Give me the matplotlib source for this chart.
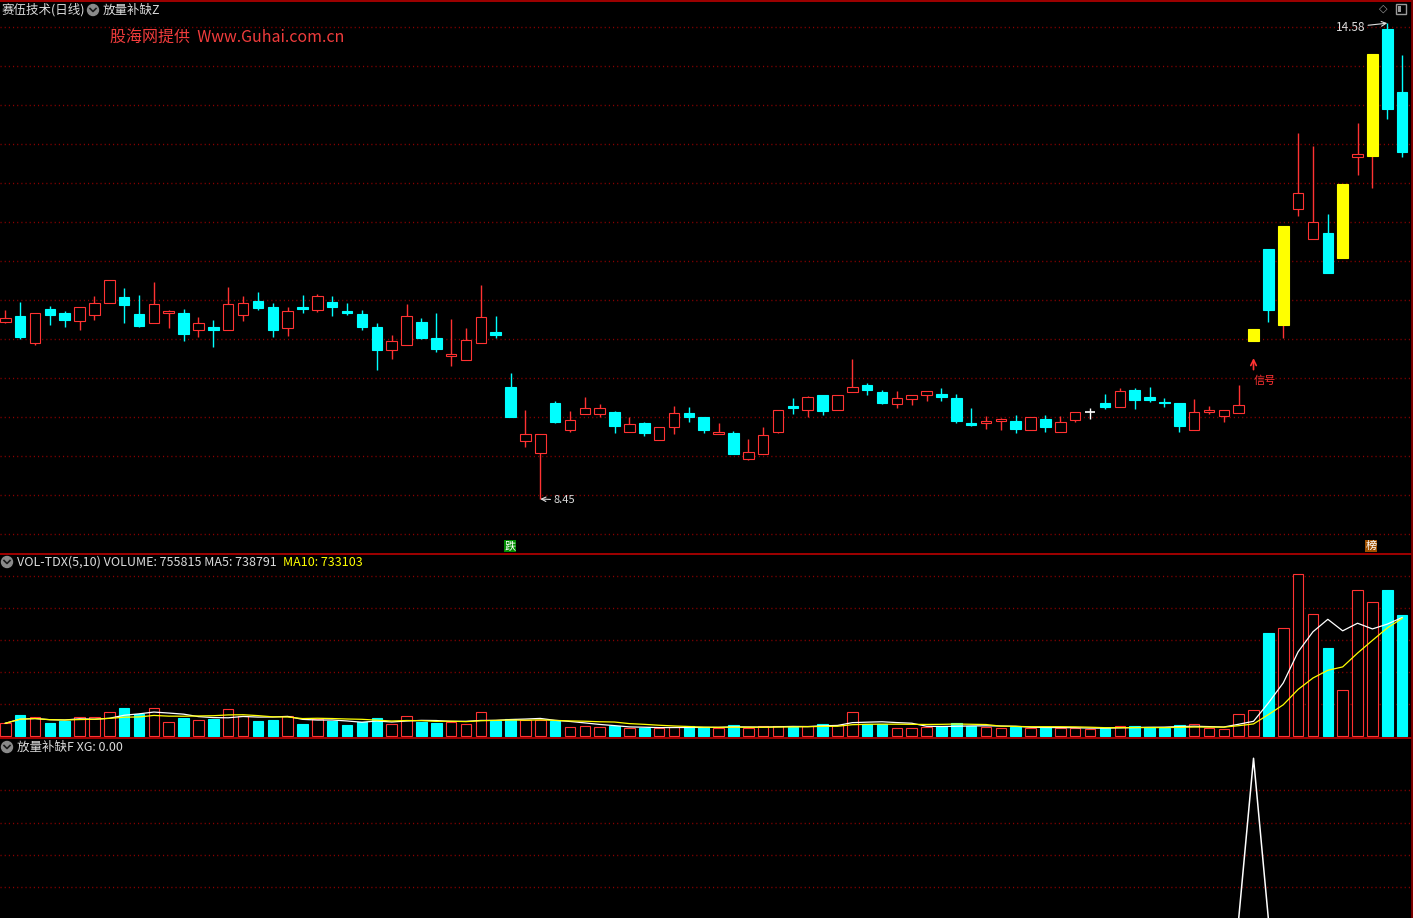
import numpy as np
import pandas as pd
import matplotlib
matplotlib.use("Agg")
import matplotlib.pyplot as plt
from matplotlib.patches import Rectangle, Circle

plt.rcParams['font.family'] = ['Noto Sans CJK SC', 'DejaVu Sans']

# daily bars (prices in yuan)
opens = [10.75, 10.83, 10.47, 10.92, 10.87, 10.76, 10.84, 11.00, 11.07, 10.85,
         10.73, 10.87, 10.87, 10.64, 10.68, 10.64, 10.84, 11.02, 10.94, 10.67,
         10.94, 10.91, 11.01, 10.89, 10.85, 10.68, 10.39, 10.45, 10.75, 10.54,
         10.31, 10.25, 10.47, 10.62, 9.91, 9.21, 9.05, 9.70, 9.34, 9.56,
         9.56, 9.58, 9.32, 9.44, 9.22, 9.39, 9.57, 9.52, 9.30, 9.31,
         8.97, 9.03, 9.32, 9.66, 9.61, 9.80, 9.61, 9.84, 9.93, 9.84,
         9.69, 9.75, 9.80, 9.81, 9.76, 9.44, 9.44, 9.46, 9.46, 9.35,
         9.49, 9.32, 9.48, 9.58, 9.70, 9.64, 9.87, 9.77, 9.71, 9.70,
         9.34, 9.58, 9.53, 9.57, 10.50, 11.70, 10.71, 12.22, 11.83, 11.90,
         11.58, 12.89, 12.91, 14.55, 13.74]
highs = [10.90, 11.01, 10.86, 10.96, 10.89, 10.95, 11.09, 11.29, 11.19, 11.10,
         11.27, 10.90, 10.92, 10.82, 10.77, 11.20, 11.09, 11.14, 11.00, 10.94,
         11.10, 11.11, 11.09, 11.00, 10.90, 10.74, 10.58, 10.98, 10.80, 10.87,
         10.79, 10.67, 11.23, 10.83, 10.09, 9.61, 9.29, 9.72, 9.59, 9.77,
         9.68, 9.59, 9.52, 9.45, 9.39, 9.66, 9.65, 9.52, 9.44, 9.33,
         9.23, 9.39, 9.61, 9.76, 9.79, 9.80, 9.80, 10.27, 9.96, 9.87,
         9.85, 9.80, 9.85, 9.89, 9.81, 9.63, 9.53, 9.50, 9.54, 9.51,
         9.54, 9.53, 9.58, 9.63, 9.81, 9.89, 9.89, 9.91, 9.76, 9.70,
         9.75, 9.66, 9.60, 9.93, 10.66, 11.70, 11.99, 13.20, 13.03, 12.15,
         12.54, 13.33, 14.23, 14.63, 14.22]
lows = [10.74, 10.53, 10.45, 10.71, 10.68, 10.64, 10.77, 11.00, 10.74, 10.68,
        10.73, 10.67, 10.50, 10.56, 10.42, 10.64, 10.76, 10.90, 10.55, 10.57,
        10.87, 10.88, 10.83, 10.84, 10.64, 10.13, 10.27, 10.45, 10.53, 10.36,
        10.18, 10.25, 10.47, 10.54, 9.52, 9.13, 8.45, 9.44, 9.32, 9.56,
        9.52, 9.31, 9.32, 9.27, 9.22, 9.30, 9.45, 9.31, 9.30, 9.04,
        8.96, 9.03, 9.31, 9.55, 9.52, 9.54, 9.61, 9.84, 9.80, 9.68,
        9.63, 9.67, 9.72, 9.72, 9.44, 9.40, 9.36, 9.35, 9.31, 9.35,
        9.32, 9.32, 9.45, 9.49, 9.62, 9.64, 9.62, 9.71, 9.64, 9.32,
        9.34, 9.55, 9.45, 9.57, 10.50, 10.75, 10.54, 12.13, 11.83, 11.39,
        11.58, 12.66, 12.49, 13.38, 12.89]
closes = [10.80, 10.56, 10.86, 10.84, 10.77, 10.95, 10.99, 11.29, 10.97, 10.70,
          10.98, 10.89, 10.59, 10.74, 10.64, 10.98, 11.00, 10.93, 10.64, 10.89,
          10.92, 11.09, 10.95, 10.87, 10.68, 10.39, 10.50, 10.83, 10.54, 10.40,
          10.33, 10.52, 10.81, 10.58, 9.52, 9.29, 9.29, 9.45, 9.48, 9.63,
          9.63, 9.40, 9.42, 9.31, 9.39, 9.57, 9.51, 9.35, 9.32, 9.04,
          9.06, 9.28, 9.61, 9.63, 9.77, 9.59, 9.80, 9.90, 9.87, 9.70,
          9.76, 9.80, 9.85, 9.77, 9.46, 9.41, 9.46, 9.49, 9.36, 9.51,
          9.38, 9.45, 9.58, 9.58, 9.65, 9.85, 9.73, 9.73, 9.70, 9.40,
          9.58, 9.61, 9.60, 9.67, 10.66, 10.90, 11.99, 12.43, 12.05, 11.39,
          12.54, 12.93, 14.23, 13.52, 12.96]
volumes = [77500, 129000, 115000, 79000, 90000, 115000, 115000, 146000, 173000, 134000,
           171000, 84000, 111000, 96000, 104000, 165000, 125000, 92000, 98000, 123000,
           73000, 103000, 94000, 67000, 84000, 111000, 73000, 123000, 88000, 79000,
           85000, 75000, 150000, 90000, 105000, 100000, 95000, 90000, 55000, 60000,
           52000, 58000, 50000, 45000, 48000, 55000, 60000, 52000, 45000, 65000,
           50000, 58000, 62000, 55000, 60000, 75000, 68000, 150000, 70000, 72000,
           50000, 48000, 55000, 62000, 80000, 60000, 52000, 48000, 55000, 50000,
           52000, 48000, 45000, 42000, 50000, 60000, 58000, 52000, 48000, 67000,
           71000, 46000, 40000, 134000, 159000, 644075, 671000, 1012000, 762000, 548000,
           284000, 909000, 834000, 911140, 755815]
# days flagged by the 放量补缺 formula (body painted yellow)
yellow_days = [84, 86, 90, 92]
xg = [0] * 84 + [1] + [0] * 10

UP = '#ff3232'
DOWN = '#00ffff'
YELLOW = '#ffff00'
GRID = '#8c0000'
LINE = '#a00000'
TXT = '#dcdcdc'

W, H = 1413, 918
fig = plt.figure(figsize=(W / 100, H / 100), dpi=100, facecolor='black')


def panel(top, bottom):
    ax = fig.add_axes([0, 1 - bottom / H, 1410 / W, (bottom - top) / H])
    ax.set_facecolor('black')
    ax.set_xticks([])
    ax.set_yticks([])
    for s in ax.spines.values():
        s.set_visible(False)
    ax.set_xlim(-0.357, 94.53)
    return ax


def grid(ax, levels):
    for lv in levels:
        ax.axhline(lv, color=GRID, lw=1, ls=(0, (0.8, 2.2)), zorder=0.5)


n = len(opens)
x = np.arange(n)
bw = 0.71

# ---- price panel ----
ax1 = panel(0, 554)
ax1.set_ylim(7.736, 14.931)
grid(ax1, 14.576 - 0.5065 * np.arange(14))

for i in range(n):
    o, h, l, c = opens[i], highs[i], lows[i], closes[i]
    top, bot = max(o, c), min(o, c)
    if c > o:
        col = UP
    elif c < o:
        col = DOWN
    else:
        col = 'white'
    ax1.vlines(i, top, h, color=col, lw=1, zorder=2)
    ax1.vlines(i, l, bot, color=col, lw=1, zorder=2)
    if c == o:
        ax1.hlines(c, i - bw / 2, i + bw / 2, color=col, lw=1.2, zorder=2)
        continue
    face = 'black' if c > o else col
    edge = col
    if i in yellow_days:
        face = edge = YELLOW
    ax1.add_patch(Rectangle((i - bw / 2, bot), bw, top - bot,
                            facecolor=face, edgecolor=edge, lw=0.8, zorder=3))

ax1.annotate('8.45', xy=(36, lows[36]), xytext=(13, -1), textcoords='offset pixels',
             color=TXT, fontsize=8, ha='left', va='center',
             arrowprops=dict(arrowstyle='->', color=TXT, lw=0.8, shrinkA=0, shrinkB=0))
ax1.annotate('14.58', xy=(93, highs[93]), xytext=(-22, -4), textcoords='offset pixels',
             color=TXT, fontsize=8.5, ha='right', va='center',
             arrowprops=dict(arrowstyle='->', color=TXT, lw=0.8, shrinkA=0, shrinkB=0))
ax1.annotate('', xy=(84, 10.28), xytext=(84, 10.13),
             arrowprops=dict(arrowstyle='->', color=UP, lw=1.2, shrinkA=0, shrinkB=0))
ax1.text(84, 9.98, '信号', color=UP, fontsize=8, ha='left', va='center')

# ---- volume panel ----
ax2 = panel(555, 737)
ax2.set_ylim(-8125, 1129375)
grid(ax2, [200000, 400000, 600000, 800000, 1000000])
up = np.array(closes) >= np.array(opens)
vol = np.array(volumes)
ax2.bar(x[up], vol[up], width=bw, facecolor='black', edgecolor=UP, lw=0.8, zorder=2)
ax2.bar(x[~up], vol[~up], width=bw, facecolor=DOWN, edgecolor=DOWN, lw=0.8, zorder=2)
s = pd.Series(volumes)
ax2.plot(x, s.rolling(5, min_periods=1).mean(), color='white', lw=0.9, zorder=3)
ax2.plot(x, s.rolling(10, min_periods=1).mean(), color=YELLOW, lw=0.9, zorder=3)

# ---- XG panel ----
ax3 = panel(738, 918)
ax3.set_ylim(0.0062, 1.126)
grid(ax3, [0.2, 0.4, 0.6, 0.8])
ax3.plot(x, xg, color='white', lw=1.1, zorder=3)

# ---- frame, headers and labels in pixel coordinates ----
ov = fig.add_axes([0, 0, 1, 1])
ov.set_xlim(0, W)
ov.set_ylim(H, 0)
ov.axis('off')
ov.patch.set_alpha(0)
for yy in [0.7, 554.3, 737.7]:
    ov.plot([0, 1411], [yy, yy], color=LINE, lw=1.4)
ov.plot([1412, 1412], [0, H], color='#800000', lw=2)


def icon(cx, cy):
    ov.add_patch(Circle((cx, cy), 5.5, color='#8a8a8a'))
    ov.plot([cx - 3, cx, cx + 3], [cy - 1.5, cy + 1.5, cy - 1.5], color='#1a1a1a', lw=1.2)


ov.text(2, 10, '赛伍技术(日线)', color=TXT, fontsize=9, ha='left', va='center')
icon(93, 10)
ov.text(103, 10, '放量补缺Z', color=TXT, fontsize=9, ha='left', va='center')
ov.text(110, 38, '股海网提供  Www.Guhai.com.cn', color='#f03c3c', fontsize=11.5,
        ha='left', va='center')
ov.text(1383, 9, '◇', color='#9a9a9a', fontsize=8, ha='center', va='center',
        family='DejaVu Sans')
ov.add_patch(Rectangle((1396, 4), 10, 10, facecolor='none', edgecolor='#9a9a9a', lw=1))
ov.add_patch(Rectangle((1398, 6), 3, 6, facecolor='#9a9a9a', edgecolor='none'))

ov.text(510, 546, '跌', color='white', fontsize=8, ha='center', va='center',
        bbox=dict(boxstyle='square,pad=0.08', fc='#008c00', ec='none'))
ov.text(1371, 546, '榜', color='white', fontsize=8, ha='center', va='center',
        bbox=dict(boxstyle='square,pad=0.08', fc='#a05000', ec='none'))

icon(7, 562)
ov.text(17, 562, 'VOL-TDX(5,10) VOLUME: 755815 MA5: 738791', color=TXT,
        fontsize=9, ha='left', va='center')
ov.text(283, 562, 'MA10: 733103', color=YELLOW, fontsize=9, ha='left', va='center')
icon(7, 747)
ov.text(17, 747, '放量补缺F XG: 0.00', color=TXT, fontsize=9, ha='left', va='center')

fig.savefig('out.png', dpi=100, facecolor='black')
